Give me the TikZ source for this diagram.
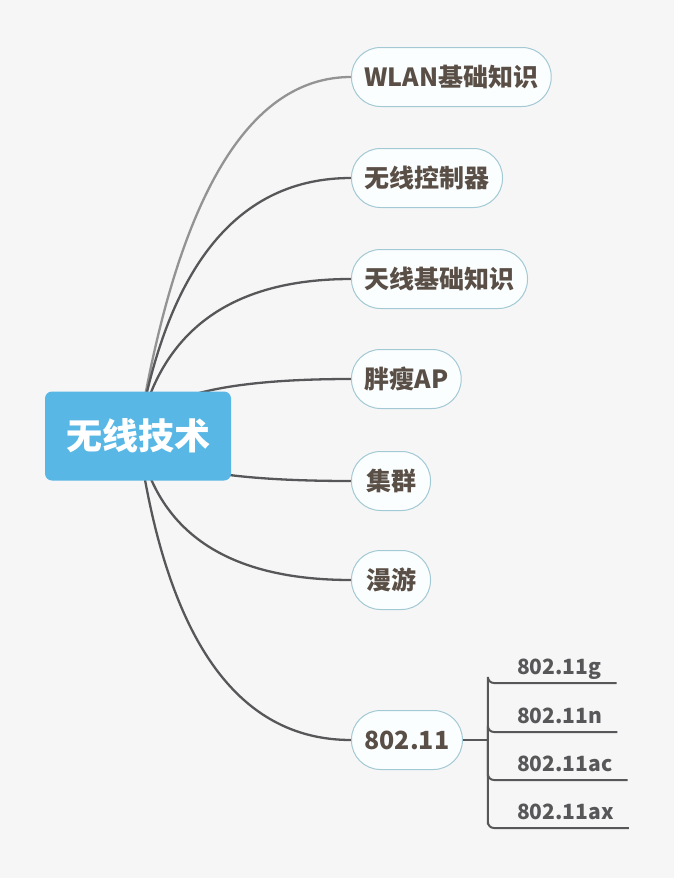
\documentclass[tikz,border=0pt]{standalone}
\usepackage{fontspec}
\setmainfont{Noto Sans CJK SC}
\usepackage{xcolor}
\definecolor{mybg}{HTML}{F6F6F7}
\definecolor{myblue}{HTML}{58B7E5}
\definecolor{mytext}{HTML}{5A4F46}
\definecolor{myline}{HTML}{575759}
\definecolor{mylight}{HTML}{939393}
\definecolor{myborder}{HTML}{A3C9D4}
\definecolor{mypill}{HTML}{FBFEFF}
\usetikzlibrary{positioning,calc,backgrounds}

\begin{document}
\begin{tikzpicture}[x=1pt,y=-1pt,
        topic/.style={fill=myblue, rounded corners=7pt, text=white, font=\bfseries\fontsize{36}{40}\selectfont, minimum width=186pt, minimum height=89pt},
        subtopic/.style={draw=myborder, line width=1pt, fill=mypill, rounded corners=29pt, minimum height=59pt, minimum width=79pt, inner xsep=13pt, text=mytext, font=\bfseries\fontsize{25}{28}\selectfont, anchor=west},
        leaf/.style={anchor=south west, inner xsep=29pt, inner ysep=8pt, text depth=0pt, text=myline, font=\bfseries\fontsize{21}{24}\selectfont},
        branch/.style={draw=myline, line width=2.3pt},
        twig/.style={draw=myline, line width=2pt, rounded corners=6pt}]
        \useasboundingbox (0,0) rectangle (674,878);

        \node[topic] (wireless) at (138,436) {无线技术};

        \node[subtopic] (wlan) at (351,77) {WLAN基础知识};
        \node[subtopic] (ctrl) at (351,178) {无线控制器};
        \node[subtopic] (antenna) at (351,279) {天线基础知识};
        \node[subtopic] (fitap) at (351,379) {胖瘦AP};
        \node[subtopic] (cluster) at (351,481) {集群};
        \node[subtopic] (roam) at (351,580) {漫游};
        \node[subtopic] (std) at (351,740) {802.11};

        % 802.11 sub-branches
        \coordinate (junc) at ([xshift=25pt]std.east);
        \node[leaf] (stdg) at ([yshift=57pt]junc) {802.11g};
        \node[leaf] (stdn) at ([yshift=8pt]junc) {802.11n};
        \node[leaf] (stdac) at ([yshift=-40pt]junc) {802.11ac};
        \node[leaf] (stdax) at ([yshift=-88pt]junc) {802.11ax};

        \begin{pgfonlayer}{background}
            \fill[mybg] (0,0) rectangle (674,878);
            % quadratic curves, written as cubics
            \foreach \sub/\bend/\col in {wlan/59/mylight,ctrl/45/myline,antenna/32/myline,fitap/14/myline,cluster/12/myline,roam/27/myline,std/42/myline}{
                \coordinate (bendpt) at ($(wireless.center |- \sub.west)+(\bend,0)$);
                \draw[branch, draw=\col] (wireless.center) .. controls ($(wireless.center)!2/3!(bendpt)$) and ($(\sub.west)!2/3!(bendpt)$) .. (\sub.west);
            }
            \draw[twig] (std.east) -- (junc);
            \foreach \leafname in {stdg,stdn,stdac,stdax}
                \draw[twig] (junc) |- (\leafname.south west) -- ([xshift=-14pt]\leafname.south east);
        \end{pgfonlayer}
\end{tikzpicture}
\end{document}
